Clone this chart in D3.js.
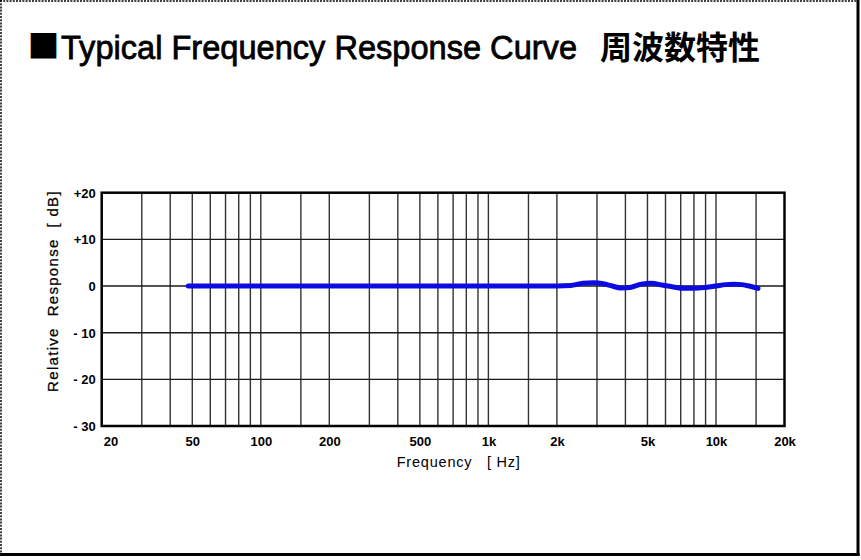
<!DOCTYPE html>
<html><head><meta charset="utf-8">
<script src="https://cdn.jsdelivr.net/npm/d3@7"></script>
<style>html,body{margin:0;padding:0;background:#fff;}svg{display:block;}</style>
</head><body>
<svg id="c" width="861" height="560"></svg>
<script>
// ---- data ----
const freqs = [48, 100, 200, 500, 1000, 1500, 2000, 2300, 2600, 2900, 3200, 3500, 3800, 4200, 4700, 5200, 5800, 6500, 7200, 8000, 9000, 10000, 11000, 12000, 13000, 14000, 15300];
const response = [0, 0, 0, 0, 0, 0, 0, 0.1, 0.6, 0.7, 0.5, 0, -0.4, -0.3, 0.4, 0.6, 0.2, -0.2, -0.5, -0.5, -0.3, 0, 0.3, 0.4, 0.3, 0, -0.5];
const xTickValues = [20, 50, 100, 200, 500, 1000, 2000, 5000, 10000, 20000];
const xTickLabels = ["20", "50", "100", "200", "500", "1k", "2k", "5k", "10k", "20k"];
const xGridValues = [30, 40, 50, 60, 70, 80, 90, 100, 150, 200, 300, 400, 500, 600, 700, 800, 900, 1000, 1500, 2000, 3000, 4000, 5000, 6000, 7000, 8000, 9000, 10000, 15000];
const yTickValues = [20, 10, 0, -10, -20, -30];
const yTickLabels = ["+20", "+10", "0", "- 10", "- 20", "- 30"];
const titleText = "Typical Frequency Response Curve";
const titleJa = "周波数特性";

// ---- layout ----
const svg = d3.select("#c");
const W = 861, H = 560;
const plot = {left: 101.7, right: 784.5, top: 192.7, bottom: 426};
const x = d3.scaleLog().domain([20, 20000]).range([plot.left, plot.right]);
const y = d3.scaleLinear().domain([-30, 20]).range([plot.bottom, plot.top]);
const FONT = "'Liberation Sans', Arial, sans-serif";

// frame
svg.append("rect").attr("x",0).attr("y",0).attr("width",W).attr("height",H).attr("fill","#fff");
svg.append("line").attr("x1",0).attr("x2",858).attr("y1",1).attr("y2",1)
  .attr("stroke","#000").attr("stroke-width",1.5).attr("stroke-dasharray","2,1.2");
svg.append("line").attr("x1",1).attr("x2",1).attr("y1",0).attr("y2",555)
  .attr("stroke","#000").attr("stroke-width",1.5).attr("stroke-dasharray","2,1.2");
svg.append("line").attr("x1",858).attr("x2",858).attr("y1",0).attr("y2",556)
  .attr("stroke","#000").attr("stroke-width",3);
svg.append("line").attr("x1",0).attr("x2",859.5).attr("y1",554.5).attr("y2",554.5)
  .attr("stroke","#000").attr("stroke-width",3);

// title
svg.append("text").attr("x",27.5).attr("y",58).text("■")
  .attr("font-family","'Noto Sans CJK JP', sans-serif").attr("font-size",32).attr("fill","#000");
svg.append("text").attr("x",61).attr("y",59).text(titleText)
  .attr("font-family",FONT).attr("font-size",34).attr("fill","#000")
  .attr("stroke","#000").attr("stroke-width",0.8)
  .attr("textLength",516).attr("lengthAdjust","spacingAndGlyphs");
svg.append("text").attr("x",600).attr("y",59).text(titleJa)
  .attr("font-family","'Noto Sans CJK JP', sans-serif").attr("font-size",32).attr("font-weight",700).attr("fill","#000");

// grid
const g = svg.append("g");
g.selectAll("line.vg").data(xGridValues).enter().append("line").attr("class","vg")
  .attr("x1",d=>x(d)).attr("x2",d=>x(d)).attr("y1",plot.top).attr("y2",plot.bottom)
  .attr("stroke","#333").attr("stroke-width",1.4);
g.selectAll("line.hg").data(yTickValues.filter(v=>v<20 && v>-30)).enter().append("line").attr("class","hg")
  .attr("x1",plot.left).attr("x2",plot.right).attr("y1",d=>y(d)).attr("y2",d=>y(d))
  .attr("stroke","#1a1a1a").attr("stroke-width",1.4);

// plot border
g.append("rect").attr("x",plot.left).attr("y",plot.top)
  .attr("width",plot.right-plot.left).attr("height",plot.bottom-plot.top)
  .attr("fill","none").attr("stroke","#000").attr("stroke-width",2.5);

// axes via d3 axis (labels only)
const xAxis = d3.axisBottom(x).tickValues(xTickValues).tickSize(0)
  .tickFormat((d,i)=>xTickLabels[i]);
const xa = svg.append("g").attr("transform",`translate(0,${plot.bottom})`).call(xAxis);
xa.select(".domain").remove();
xa.selectAll("text").attr("font-family",FONT).attr("font-size",13).attr("font-weight","bold")
  .attr("fill","#000").attr("dy",0).attr("y",19.5);
xa.selectAll(".tick").filter(d=>d===20).select("text").attr("text-anchor","start").attr("x",1.5);

const yAxis = d3.axisLeft(y).tickValues(yTickValues).tickSize(0)
  .tickFormat((d,i)=>yTickLabels[i]);
const ya = svg.append("g").attr("transform",`translate(${plot.left},0)`).call(yAxis);
ya.select(".domain").remove();
ya.selectAll("text").attr("font-family",FONT).attr("font-size",13).attr("font-weight","bold")
  .attr("fill","#000").attr("x",-6).attr("dy","0.35em").style("white-space","pre");

// axis titles
svg.append("text").attr("x",plot.left+295).attr("y",466.5)
  .attr("font-family",FONT).attr("font-size",14.5).attr("letter-spacing",0.8).attr("fill","#000")
  .style("white-space","pre").text("Frequency   [ Hz]");
svg.append("text").attr("transform",`translate(58,291) rotate(-90)`)
  .attr("text-anchor","middle")
  .attr("font-family",FONT).attr("font-size",15).attr("letter-spacing",1.3).attr("fill","#000")
  .attr("stroke","#000").attr("stroke-width",0.25)
  .style("white-space","pre").text("Relative  Response  [ dB]");

// curve
const line = d3.line().x(d=>x(d[0])).y(d=>y(d[1])).curve(d3.curveMonotoneX);
svg.append("path").datum(freqs.map((f,i)=>[f,response[i]]))
  .attr("d",line).attr("fill","none").attr("stroke","#0c0ce0")
  .attr("stroke-width",5).attr("stroke-linecap","round").attr("stroke-linejoin","round");
</script>
</body></html>
